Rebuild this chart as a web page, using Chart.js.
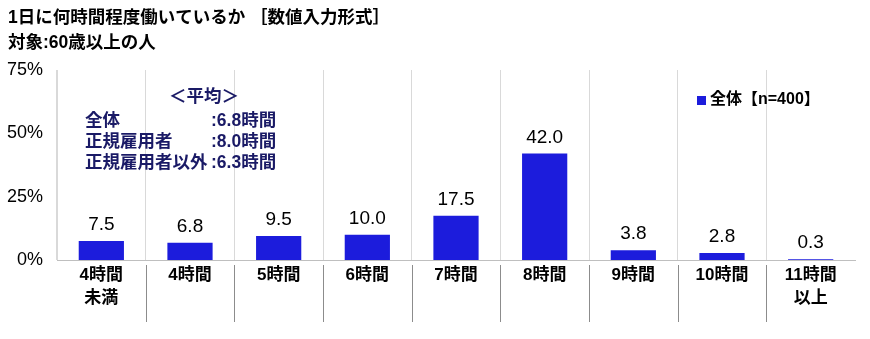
<!DOCTYPE html>
<html lang="ja">
<head>
<meta charset="utf-8">
<script src="https://cdn.jsdelivr.net/npm/chart.js@4.4.1/dist/chart.umd.min.js"></script>
<style>
  html, body { margin: 0; padding: 0; background: #fff; }
  #wrap { width: 870px; height: 339px; }
</style>
</head>
<body>
<div id="wrap"><canvas id="grafico" width="870" height="339"></canvas></div>
<script>
// データ
const categorias = [['4時間', '未満'], '4時間', '5時間', '6時間', '7時間', '8時間', '9時間', '10時間', ['11時間', '以上']];
const valores = [7.5, 6.8, 9.5, 10.0, 17.5, 42.0, 3.8, 2.8, 0.3];
const etiquetasY = [0, 25, 50, 75];
const titulo = ['1日に何時間程度働いているか ［数値入力形式］', '対象:60歳以上の人'];
const legenda = '全体【n=400】';
const mediaTitulo = '＜平均＞';
const mediaGrupos = ['全体', '正規雇用者', '正規雇用者以外'];
const mediaValores = ['6.8時間', '8.0時間', '6.3時間'];

const AZUL = '#1c1cdc';
const NAVY = '#1a1a66';
const FONTE = '"Liberation Sans", "Noto Sans CJK JP", sans-serif';

// rótulos, títulos e separadores desenhados à mão
const extras = {
  id: 'extras',
  afterDraw(chart) {
    const c = chart.ctx;
    const area = chart.chartArea;
    const x = chart.scales.x;
    const meta = chart.getDatasetMeta(0);

    c.save();
    // título
    c.fillStyle = '#000';
    c.font = 'bold 17.5px ' + FONTE;
    c.textAlign = 'left';
    c.textBaseline = 'middle';
    c.fillText(titulo[0], 8, 18);
    c.fillText(titulo[1], 8, 43);

    // separadores abaixo do eixo
    c.strokeStyle = '#8c8c8c';
    c.lineWidth = 1;
    for (let i = 1; i < categorias.length; i++) {
      const px = Math.round((x.getPixelForValue(i - 1) + x.getPixelForValue(i)) / 2) + 0.5;
      c.beginPath();
      c.moveTo(px, area.bottom + 5);
      c.lineTo(px, area.bottom + 62);
      c.stroke();
    }

    // valores acima das barras
    c.fillStyle = '#000';
    c.font = '19px ' + FONTE;
    c.textAlign = 'center';
    c.textBaseline = 'alphabetic';
    meta.data.forEach((bar, i) => {
      c.fillText(valores[i].toFixed(1), bar.x, bar.y - 11);
    });

    // caixa de médias
    c.fillStyle = NAVY;
    c.font = 'bold 17.5px ' + FONTE;
    c.textAlign = 'center';
    c.textBaseline = 'middle';
    c.fillText(mediaTitulo, 204, 97);
    mediaGrupos.forEach((g, i) => {
      const py = 121 + i * 21;
      c.textAlign = 'left';
      c.fillText(g, 85, py);
      c.fillText(':' + mediaValores[i], 211, py);
    });

    // legenda
    c.fillStyle = AZUL;
    c.fillRect(697, 96, 9, 9);
    c.fillStyle = '#000';
    c.font = 'bold 16px ' + FONTE;
    c.textAlign = 'left';
    c.fillText(legenda, 710, 100);
    c.restore();
  }
};

const ctx = document.getElementById('grafico').getContext('2d');
new Chart(ctx, {
  type: 'bar',
  data: {
    labels: categorias,
    datasets: [{
      data: valores,
      backgroundColor: AZUL,
      borderWidth: 0,
      barPercentage: 0.51,
      categoryPercentage: 1.0
    }]
  },
  options: {
    responsive: false,
    animation: false,
    layout: { padding: { top: 70, left: 7, right: 15, bottom: 0 } },
    plugins: {
      legend: { display: false },
      title: { display: false },
      tooltip: { enabled: false }
    },
    scales: {
      y: {
        min: 0,
        max: 75,
        afterFit: s => { s.width = 50; },
        afterBuildTicks: s => { s.ticks = etiquetasY.map(v => ({ value: v })); },
        ticks: {
          callback: v => v + '%',
          color: '#000',
          font: { size: 18, family: FONTE },
          padding: 14
        },
        grid: { display: false, drawTicks: false },
        border: { display: true, color: '#d9d9d9', width: 1 }
      },
      x: {
        afterFit: s => { s.height = 79; },
        ticks: {
          color: '#000',
          font: { size: 17, weight: 'bold', family: FONTE, lineHeight: 1.4 },
          padding: 3,
          maxRotation: 0,
          autoSkip: false
        },
        grid: {
          display: true,
          offset: true,
          // a última linha (borda direita) não aparece no original
          color: c => c.type === 'tick' ? '#d9d9d9' : 'rgba(0,0,0,0)',
          drawTicks: false
        },
        border: { display: true, color: '#bfbfbf', width: 1 }
      }
    }
  },
  plugins: [extras]
});
</script>
</body>
</html>
